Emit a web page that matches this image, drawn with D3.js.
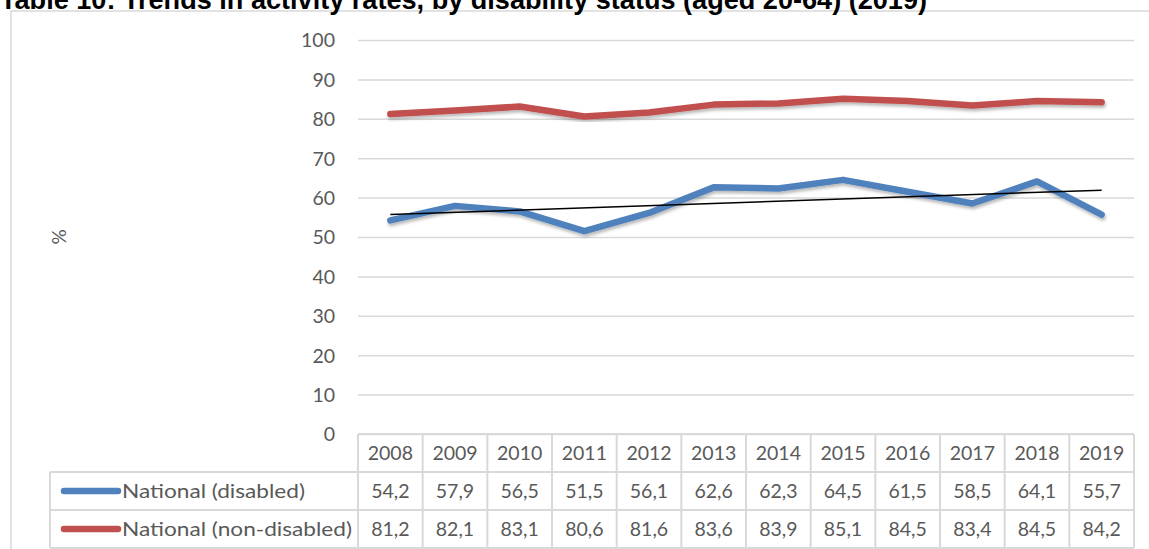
<!DOCTYPE html>
<html><head><meta charset="utf-8">
<script src="https://cdn.jsdelivr.net/npm/d3@7"></script>
<style>
html,body{margin:0;padding:0;background:#fff;overflow:hidden;}
svg{display:block;}
</style></head>
<body>
<svg id="chart" width="1149" height="549"></svg>
<script>
const title = "Table 10: Trends in activity rates, by disability status (aged 20-64) (2019)";
const years = ["2008","2009","2010","2011","2012","2013","2014","2015","2016","2017","2018","2019"];
const disabled = [54.2,57.9,56.5,51.5,56.1,62.6,62.3,64.5,61.5,58.5,64.1,55.7];
const nonDisabled = [81.2,82.1,83.1,80.6,81.6,83.6,83.9,85.1,84.5,83.4,84.5,84.2];
const seriesNames = ["National (disabled)","National (non-disabled)"];
const seriesColors = ["#4F81BD","#C0504D"];
const yTicks = [0,10,20,30,40,50,60,70,80,90,100];
const yLabel = "%";

const series = [disabled, nonDisabled];
const svg = d3.select("#chart");
const font = "Lato, 'Open Sans', sans-serif";
const grey = "#595959", gridC = "#d9d9d9";

const L = 358, R = 1134, T = 40, B = 434;
const x = d3.scaleBand().domain(years).range([L, R]);
const y = d3.scaleLinear().domain([0,100]).range([B, T]);

const defs = svg.append("defs");
const f = defs.append("filter").attr("id","sh").attr("x","-5%").attr("y","-20%").attr("width","110%").attr("height","150%");
f.append("feDropShadow").attr("dx",1).attr("dy",2.5).attr("stdDeviation",1.5).attr("flood-color","#000").attr("flood-opacity",0.28);

// outer border
svg.append("rect").attr("x",11).attr("y",11).attr("width",1200).attr("height",600)
  .attr("fill","none").attr("stroke",gridC).attr("stroke-width",1.5);

// title (clipped at top, as in the reference)
svg.append("text").attr("x",0).attr("y",9).attr("font-family","'Liberation Sans', Arial, sans-serif")
  .attr("font-weight","bold").attr("font-size",27).attr("fill","#000")
  .attr("textLength",927).attr("lengthAdjust","spacingAndGlyphs").text(title);

// y axis + grid
const yAxis = d3.axisLeft(y).tickValues(yTicks).tickSize(-(R-L)).tickPadding(23).tickFormat(d3.format("d"));
const gy = svg.append("g").attr("transform",`translate(${L},0)`).call(yAxis);
gy.select(".domain").remove();
gy.selectAll(".tick line").attr("stroke",gridC).attr("stroke-width",1.5);
gy.selectAll(".tick text").attr("font-family",font).attr("font-size",19.5).attr("fill",grey).attr("dy","0.35em");

svg.append("text").attr("transform","translate(66,237) rotate(-90)").attr("text-anchor","middle")
  .attr("font-family",font).attr("font-size",19).attr("fill",grey).text(yLabel);

// lines
const cx = d => x(d) + x.bandwidth()/2;
const line = d3.line().x((d,i)=>cx(years[i])).y(d=>y(d));
series.forEach((s,k)=>{
  svg.append("path").datum(s).attr("d",line).attr("fill","none").attr("stroke",seriesColors[k])
    .attr("stroke-width",6.5).attr("stroke-linejoin","round").attr("stroke-linecap","round").attr("filter","url(#sh)");
});

// linear trendline for disabled
const n = disabled.length, idx = d3.range(n);
const mx = d3.mean(idx), my = d3.mean(disabled);
const slope = d3.sum(idx, i => (i-mx)*(disabled[i]-my)) / d3.sum(idx, i => (i-mx)*(i-mx));
const icpt = my - slope*mx;
svg.append("line").attr("x1",cx(years[0])).attr("y1",y(icpt)).attr("x2",cx(years[n-1])).attr("y2",y(icpt+slope*(n-1)))
  .attr("stroke","#000").attr("stroke-width",1.5);

// data table
const rowTop = [434,472,510], rowH = 38, tL = 50;
const tb = svg.append("g").attr("stroke",gridC).attr("stroke-width",2).attr("fill","none");
tb.append("line").attr("x1",L).attr("x2",R).attr("y1",434).attr("y2",434);
[472,510,548].forEach(yy=>tb.append("line").attr("x1",tL).attr("x2",R).attr("y1",yy).attr("y2",yy));
tb.append("line").attr("x1",tL).attr("x2",tL).attr("y1",472).attr("y2",548);
years.forEach(yr=>tb.append("line").attr("x1",x(yr)).attr("x2",x(yr)).attr("y1",434).attr("y2",548));
tb.append("line").attr("x1",R).attr("x2",R).attr("y1",434).attr("y2",548);

const tf = 19.5;
svg.append("g").selectAll("text").data(years).join("text")
  .attr("x",d=>cx(d)).attr("y",rowTop[0]+rowH/2).attr("dy","0.35em").attr("text-anchor","middle")
  .attr("font-family",font).attr("font-size",tf).attr("fill",grey).text(d=>d);

const fmt = v => d3.format(".1f")(v).replace(".",",");
const labelLen = [183, 230];
series.forEach((s,k)=>{
  const yy = rowTop[k+1]+rowH/2;
  svg.append("line").attr("x1",64).attr("x2",118).attr("y1",yy).attr("y2",yy)
    .attr("stroke",seriesColors[k]).attr("stroke-width",6.5).attr("stroke-linecap","round");
  svg.append("text").attr("x",122).attr("y",yy).attr("dy","0.35em").attr("font-family",font)
    .attr("font-size",tf+0.5).attr("fill",grey).attr("textLength",labelLen[k]).attr("lengthAdjust","spacingAndGlyphs")
    .text(seriesNames[k]);
  svg.append("g").selectAll("text").data(s).join("text")
    .attr("x",(d,i)=>cx(years[i])).attr("y",yy).attr("dy","0.35em").attr("text-anchor","middle")
    .attr("font-family",font).attr("font-size",tf).attr("fill",grey).text(d=>fmt(d));
});
</script>
</body></html>
